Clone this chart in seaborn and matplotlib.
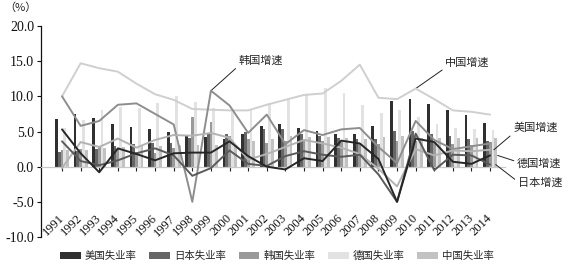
import numpy as np
import pandas as pd
import seaborn as sns
import matplotlib.pyplot as plt

# ---------------- data ----------------
years = [str(y) for y in range(1991, 2015)]

us_unemp = [6.8, 7.5, 6.9, 6.1, 5.6, 5.4, 4.9, 4.5, 4.2, 4.0, 4.7, 5.8, 6.0, 5.5, 5.1, 4.6, 4.6, 5.8, 9.3, 9.6, 8.9, 8.1, 7.4, 6.2]
jp_unemp = [2.1, 2.2, 2.5, 2.9, 3.2, 3.4, 3.4, 4.1, 4.7, 4.7, 5.0, 5.4, 5.3, 4.7, 4.4, 4.1, 3.9, 4.0, 5.1, 5.1, 4.6, 4.3, 4.0, 3.6]
kr_unemp = [2.4, 2.5, 2.9, 2.5, 2.1, 2.0, 2.6, 7.0, 6.3, 4.4, 4.0, 3.3, 3.6, 3.7, 3.7, 3.5, 3.2, 3.2, 3.6, 3.7, 3.4, 3.2, 3.1, 3.5]
de_unemp = [5.5, 6.7, 8.1, 8.5, 8.4, 9.0, 10.0, 9.2, 8.4, 8.0, 8.0, 9.0, 9.5, 10.4, 11.2, 10.5, 8.8, 7.7, 8.0, 7.1, 6.0, 5.5, 5.4, 5.2]
cn_unemp = [2.3, 2.3, 2.6, 2.8, 2.9, 3.0, 3.1, 3.1, 3.1, 3.1, 3.6, 4.0, 4.3, 4.2, 4.2, 4.1, 4.0, 4.2, 4.3, 4.1, 4.1, 4.1, 4.1, 4.1]

cn_gdp = [10.0, 14.7, 14.0, 13.5, 11.8, 10.3, 9.5, 8.2, 8.1, 8.0, 8.0, 8.8, 9.5, 10.2, 10.4, 12.2, 14.5, 9.8, 9.6, 11.1, 9.6, 8.0, 7.8, 7.4]
kr_gdp = [10.0, 5.8, 6.5, 8.8, 9.0, 7.5, 6.0, -5.0, 10.8, 8.7, 4.8, 7.4, 3.2, 5.2, 4.5, 5.3, 5.5, 2.8, 0.5, 6.5, 3.8, 2.5, 2.9, 3.3]
us_gdp = [-0.2, 3.5, 2.8, 4.0, 2.7, 3.8, 4.5, 4.4, 4.8, 4.1, 1.0, 1.8, 2.8, 3.8, 3.3, 2.7, 1.8, -0.3, -2.8, 2.5, 1.6, 2.3, 2.2, 2.4]
jp_gdp = [3.6, 0.8, 0.2, 0.9, 1.9, 2.6, 1.6, -1.3, -0.2, 2.3, 0.4, 0.1, 1.5, 2.2, 1.7, 1.4, 1.7, -1.1, -5.0, 4.7, -0.5, 1.7, 1.6, 0.3]
de_gdp = [5.3, 1.9, -0.8, 2.6, 1.8, 0.9, 1.9, 2.0, 2.0, 3.6, 1.5, 0.0, -0.4, 1.2, 0.8, 3.7, 3.3, 1.1, -5.0, 4.0, 3.5, 0.7, 0.4, 1.6]

bar_names = ["美国失业率", "日本失业率", "韩国失业率", "德国失业率", "中国失业率"]
bar_values = [us_unemp, jp_unemp, kr_unemp, de_unemp, cn_unemp]
bar_colors = ["#303030", "#666666", "#9a9a9a", "#e2e2e2", "#c2c2c2"]

line_names = ["中国增速", "韩国增速", "美国增速", "日本增速", "德国增速"]
line_values = [cn_gdp, kr_gdp, us_gdp, jp_gdp, de_gdp]
line_colors = ["#cfcfcf", "#8e8e8e", "#b3b3b3", "#5a5a5a", "#262626"]

# ---------------- figure ----------------
sns.set_theme(style="white")
plt.rcParams['font.family'] = ['Liberation Serif', 'Noto Sans CJK SC']
plt.rcParams['axes.unicode_minus'] = False
CJK = ['Noto Sans CJK SC', 'Liberation Serif']

W, H = 566, 263
fig = plt.figure(figsize=(W / 100, H / 100), dpi=100)
ax = fig.add_axes([41 / W, 1 - 237 / H, (505 - 41) / W, (237 - 26) / H])

rows = []
for name, vals in zip(bar_names, bar_values):
    for y, v in zip(years, vals):
        rows.append({"year": y, "series": name, "value": v})
df = pd.DataFrame(rows)

sns.barplot(data=df, x="year", y="value", hue="series", hue_order=bar_names,
            palette=bar_colors, width=0.75, errorbar=None, saturation=1,
            linewidth=0, ax=ax)
handles, labels = ax.get_legend_handles_labels()

xpos = np.arange(len(years))
for name, vals, c in zip(line_names, line_values, line_colors):
    sns.lineplot(x=xpos, y=vals, color=c, lw=1.4, ax=ax, zorder=5, legend=False)

if ax.get_legend() is not None:
    ax.get_legend().remove()

ax.set_xlim(-1.13, 23.8)
ax.set_ylim(-10, 20)
ax.set_yticks(np.arange(-10, 20.1, 5))
ax.set_yticklabels([f"{v:.1f}" for v in np.arange(-10, 20.1, 5)], fontsize=10)
ax.set_xlabel("")
ax.set_ylabel("")

for s in ["top", "right"]:
    ax.spines[s].set_visible(False)
ax.spines["left"].set_color("#111111")
ax.spines["left"].set_linewidth(0.9)
ax.spines["bottom"].set_position(("data", 0))
ax.spines["bottom"].set_color("#c8c8c8")
ax.spines["bottom"].set_linewidth(0.9)

ax.tick_params(axis="y", which="both", left=True, direction="out", length=3,
               width=0.8, color="#111111", pad=2, labelcolor="#111111")
ax.set_xticks(xpos)
ax.set_xticklabels(years, rotation=45, ha="right", va="center",
                   rotation_mode="anchor", fontsize=9)
ax.tick_params(axis="x", which="both", bottom=True, direction="out", length=3,
               width=0.8, color="#222222", pad=33, labelcolor="#111111")

# annotations
ann = dict(arrowstyle="-", lw=0.7, color="#222222", shrinkA=0, shrinkB=0)
ax.annotate("韩国增速", xy=(8, kr_gdp[8]), xytext=(9.5, 15.1),
            fontsize=8, family=CJK, ha="left", va="center",
            arrowprops=dict(ann, relpos=(0, 0)))
ax.annotate("中国增速", xy=(19, cn_gdp[19]), xytext=(20.6, 14.8),
            fontsize=8, family=CJK, ha="left", va="center",
            arrowprops=dict(ann, relpos=(0, 0)))
ax.annotate("美国增速", xy=(23.2, us_gdp[23]), xytext=(24.25, 5.5),
            fontsize=8, family=CJK, ha="left", va="center",
            arrowprops=dict(ann, relpos=(0, 0)), annotation_clip=False)
ax.annotate("德国增速", xy=(23.4, de_gdp[23]), xytext=(24.45, 0.4),
            fontsize=8, family=CJK, ha="left", va="center",
            arrowprops=dict(ann, relpos=(0, 0.7)), annotation_clip=False)
ax.annotate("日本增速", xy=(23.3, jp_gdp[23]), xytext=(24.5, -2.3),
            fontsize=8, family=CJK, ha="left", va="center",
            arrowprops=dict(ann, relpos=(0, 0.6)), annotation_clip=False)

fig.text(4 / W, 1 - 8 / H, "（%）", fontsize=8, family=CJK, ha="left", va="center",
         color="#222222")

fig.legend(handles, labels, loc="center", bbox_to_anchor=(277 / W, 1 - 256 / H),
           ncol=5, frameon=False, prop={"family": CJK, "size": 7.5},
           handlelength=2.0, handleheight=0.7, columnspacing=1.2,
           handletextpad=0.4, borderaxespad=0)

fig.savefig("out.png", dpi=100)
